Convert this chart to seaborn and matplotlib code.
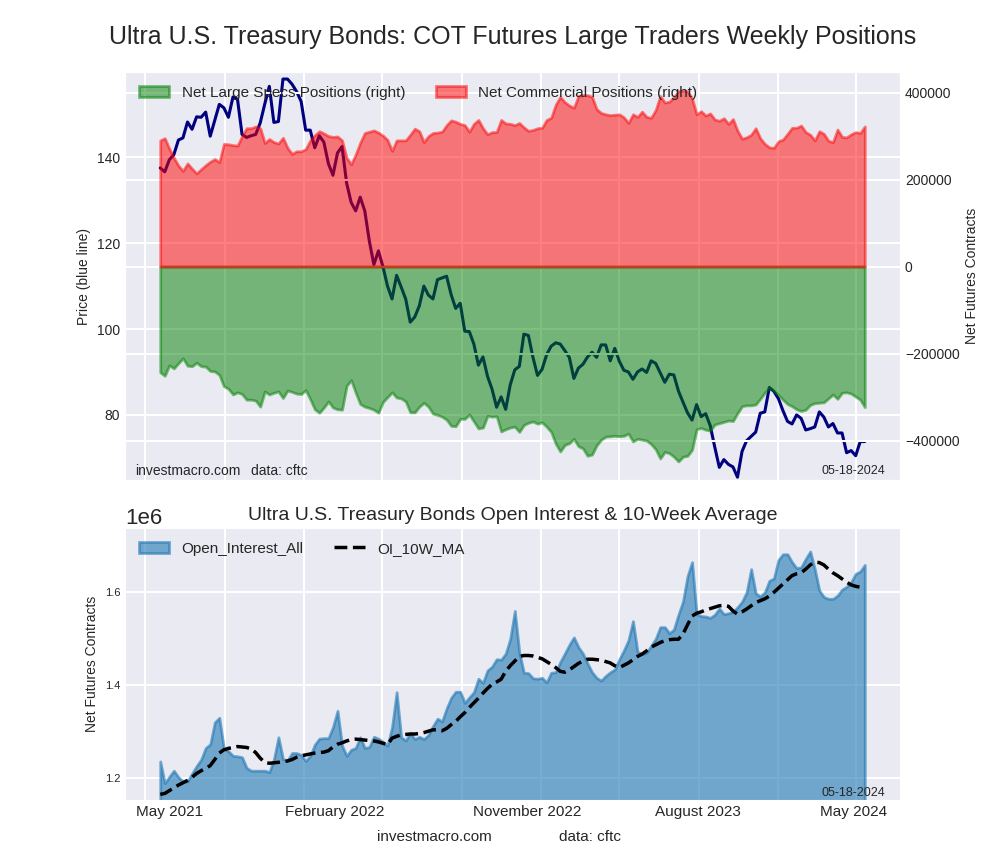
import numpy as np
import pandas as pd
import matplotlib
matplotlib.use("Agg")
import matplotlib.pyplot as plt
import matplotlib.dates as mdates
import matplotlib.ticker as mticker
import seaborn as sns

# weekly report dates (Tuesdays)
dates = pd.date_range("2021-05-25", periods=156, freq="7D")

# price (blue line)
price = [137.5, 136.6, 139.4, 140.6, 144.0, 144.5, 148.2, 146.5, 149.4, 149.3,
         150.5, 144.9, 148.6, 152.3, 151.5, 149.3, 154.0, 153.5, 145.3, 144.6,
         145.0, 145.3, 148.0, 152.4, 156.5, 148.1, 148.3, 158.2, 158.2, 157.0,
         155.3, 153.0, 146.3, 146.3, 142.2, 145.0, 143.5, 138.5, 135.8, 141.0,
         142.5, 134.0, 129.5, 127.5, 130.7, 127.5, 120.5, 115.0, 118.2, 114.5,
         110.0, 107.0, 112.5, 109.8, 107.0, 101.6, 102.8, 105.4, 110.0, 107.9,
         107.0, 111.5, 111.9, 112.3, 108.0, 104.8, 106.0, 99.5, 99.4, 96.5,
         91.6, 93.5, 89.0, 86.0, 81.8, 84.2, 81.3, 87.0, 90.5, 91.3,
         98.8, 98.5, 93.4, 89.2, 90.6, 94.0, 96.0, 96.8, 96.5, 95.0,
         93.4, 88.5, 90.9, 91.8, 93.5, 94.6, 93.4, 96.3, 96.3, 92.6,
         95.5, 92.5, 90.4, 90.0, 88.3, 90.0, 90.7, 89.9, 92.6, 92.0,
         89.8, 87.6, 89.5, 89.3, 85.6, 83.0, 80.5, 78.8, 82.4, 79.6,
         80.3, 77.5, 72.5, 67.8, 69.6, 68.5, 67.9, 65.5, 71.5, 74.0,
         75.0, 76.0, 80.4, 80.7, 86.4, 85.5, 83.8, 81.0, 78.5, 77.9,
         80.0, 79.2, 76.5, 76.8, 77.2, 80.7, 79.5, 77.2, 78.0, 75.8,
         75.8, 71.2, 71.7, 70.5, 73.8, 73.8]

# net commercial positions, thousands of contracts
commercial_k = [290, 295, 271, 250, 232, 220, 237, 225, 214, 224,
                233, 241, 247, 240, 282, 281, 279, 278, 300, 318,
                318, 322, 318, 284, 293, 286, 283, 296, 273, 259,
                265, 265, 270, 290, 302, 311, 306, 300, 298, 299,
                290, 250, 235, 258, 285, 307, 310, 313, 308, 301,
                291, 266, 290, 290, 290, 303, 317, 311, 286, 300,
                307, 308, 310, 325, 336, 333, 328, 325, 310, 328,
                337, 318, 304, 309, 309, 337, 329, 328, 325, 330,
                320, 312, 314, 318, 319, 337, 342, 372, 390, 378,
                370, 365, 392, 394, 394, 390, 362, 353, 350, 348,
                349, 350, 343, 330, 350, 344, 356, 344, 342, 360,
                392, 377, 379, 389, 403, 404, 403, 386, 350, 357,
                347, 352, 338, 335, 341, 328, 339, 312, 294, 297,
                303, 318, 295, 282, 274, 273, 288, 292, 305, 319,
                319, 324, 309, 303, 290, 311, 305, 289, 286, 315,
                298, 297, 304, 309, 307, 322]

# net large speculator positions, thousands of contracts
specs_k = [-243, -251, -227, -234, -222, -211, -228, -229, -221, -229,
           -230, -240, -241, -249, -275, -281, -294, -289, -293, -306,
           -306, -308, -322, -287, -294, -290, -287, -302, -285, -288,
           -292, -293, -284, -305, -328, -336, -324, -310, -324, -328,
           -329, -274, -261, -290, -316, -322, -325, -329, -336, -311,
           -300, -289, -301, -303, -310, -335, -335, -322, -313, -322,
           -338, -341, -345, -352, -366, -367, -350, -350, -340, -356,
           -372, -370, -343, -345, -344, -379, -374, -370, -368, -380,
           -364, -359, -356, -361, -358, -368, -380, -407, -425, -410,
           -406, -396, -413, -418, -435, -432, -411, -398, -391, -390,
           -389, -390, -389, -384, -402, -396, -398, -400, -408, -420,
           -441, -426, -429, -437, -448, -437, -435, -421, -374, -371,
           -375, -377, -363, -360, -357, -354, -355, -337, -321, -319,
           -319, -317, -304, -290, -278, -286, -295, -306, -316, -321,
           -328, -332, -329, -318, -314, -313, -312, -303, -294, -304,
           -290, -289, -292, -299, -306, -323]

# open interest and its 10 week average, millions of contracts
open_interest_m = [1.236, 1.189, 1.203, 1.216, 1.202, 1.193, 1.193, 1.210, 1.226, 1.240,
                   1.265, 1.273, 1.320, 1.330, 1.263, 1.258, 1.248, 1.247, 1.245, 1.222,
                   1.216, 1.216, 1.216, 1.216, 1.213, 1.240, 1.288, 1.241, 1.238, 1.254,
                   1.254, 1.250, 1.237, 1.248, 1.272, 1.285, 1.286, 1.286, 1.310, 1.345,
                   1.270, 1.248, 1.261, 1.265, 1.288, 1.265, 1.267, 1.289, 1.285, 1.278,
                   1.270, 1.310, 1.385, 1.288, 1.281, 1.297, 1.284, 1.289, 1.284, 1.293,
                   1.312, 1.328, 1.322, 1.350, 1.373, 1.386, 1.386, 1.362, 1.374, 1.385,
                   1.414, 1.405, 1.432, 1.440, 1.456, 1.455, 1.468, 1.500, 1.560, 1.470,
                   1.427, 1.426, 1.415, 1.414, 1.416, 1.406, 1.427, 1.428, 1.450, 1.468,
                   1.487, 1.503, 1.482, 1.468, 1.447, 1.428, 1.416, 1.410, 1.420, 1.428,
                   1.434, 1.456, 1.475, 1.497, 1.538, 1.472, 1.467, 1.470, 1.485, 1.500,
                   1.525, 1.525, 1.512, 1.520, 1.552, 1.580, 1.635, 1.665, 1.553, 1.549,
                   1.548, 1.545, 1.552, 1.565, 1.553, 1.555, 1.558, 1.568, 1.580, 1.600,
                   1.650, 1.598, 1.591, 1.600, 1.625, 1.630, 1.670, 1.682, 1.682, 1.665,
                   1.652, 1.654, 1.672, 1.688, 1.650, 1.604, 1.590, 1.586, 1.586, 1.593,
                   1.606, 1.612, 1.622, 1.640, 1.645, 1.659]

oi_ma_m = [1.165, 1.167, 1.173, 1.179, 1.185, 1.190, 1.195, 1.202, 1.210, 1.216,
           1.221, 1.227, 1.240, 1.254, 1.261, 1.264, 1.266, 1.268, 1.267, 1.266,
           1.263, 1.255, 1.243, 1.234, 1.232, 1.233, 1.234, 1.235, 1.237, 1.240,
           1.245, 1.248, 1.250, 1.252, 1.254, 1.255, 1.256, 1.259, 1.267, 1.273,
           1.276, 1.280, 1.283, 1.284, 1.283, 1.282, 1.281, 1.280, 1.278, 1.275,
           1.272, 1.286, 1.290, 1.293, 1.294, 1.295, 1.295, 1.296, 1.298, 1.301,
           1.304, 1.304, 1.302, 1.307, 1.315, 1.322, 1.332, 1.341, 1.352, 1.362,
           1.372, 1.383, 1.393, 1.402, 1.407, 1.413, 1.430, 1.442, 1.452, 1.462,
           1.464, 1.464, 1.463, 1.460, 1.457, 1.451, 1.445, 1.438, 1.430, 1.428,
           1.433, 1.440, 1.447, 1.452, 1.456, 1.456, 1.455, 1.454, 1.451, 1.448,
           1.442, 1.438, 1.443, 1.448, 1.455, 1.462, 1.467, 1.474, 1.482, 1.487,
           1.492, 1.496, 1.498, 1.499, 1.499, 1.510, 1.530, 1.549, 1.555, 1.558,
           1.562, 1.565, 1.568, 1.571, 1.572, 1.570, 1.560, 1.553, 1.558, 1.564,
           1.571, 1.578, 1.582, 1.586, 1.592, 1.600, 1.609, 1.618, 1.627, 1.636,
           1.640, 1.642, 1.650, 1.659, 1.665, 1.664, 1.659, 1.650, 1.642, 1.636,
           1.629, 1.622, 1.616, 1.613, 1.611, 1.613]

# x axis labels on the lower panel
label_dates = ["2021-06-09", "2022-02-17", "2022-12-11", "2023-08-31", "2024-04-27"]
label_texts = ["May 2021", "February 2022", "November 2022", "August 2023", "May 2024"]
report_date = "05-18-2024"

df = pd.DataFrame({
    "date": dates,
    "price": price,
    "specs": np.array(specs_k) * 1000,
    "commercial": np.array(commercial_k) * 1000,
    "oi": np.array(open_interest_m) * 1e6,
    "oi_ma": np.array(oi_ma_m) * 1e6,
})

sns.set_style("darkgrid")
plt.rcParams["font.family"] = ["Liberation Sans", "DejaVu Sans"]
plt.rcParams["grid.linewidth"] = 1.5

fig = plt.figure(figsize=(10, 8.6), dpi=100)
gs = fig.add_gridspec(2, 1, height_ratios=[3, 2], hspace=0.141,
                      left=0.125, right=0.9, top=0.916, bottom=0.07)
ax1 = fig.add_subplot(gs[0])
ax3 = fig.add_subplot(gs[1])

# --- top panel: price + net positions
sns.lineplot(data=df, x="date", y="price", ax=ax1, color="navy", linewidth=2.2)
ax1.set_ylim(df["price"].min() * 0.99, df["price"].max() * 1.01)
ax1.set_ylabel("Price (blue line)", fontsize=10)
ax1.set_xlabel("")

ax2 = ax1.twinx()
ax2.fill_between(df["date"], 0, df["specs"], color="green", alpha=0.5, linewidth=2,
                 label="Net Large Specs Positions (right)")
ax2.fill_between(df["date"], 0, df["commercial"], color="red", alpha=0.5, linewidth=2,
                 label="Net Commercial Positions (right)")
ax2.set_ylabel("Net Futures Contracts", fontsize=10)
ax2.legend(loc="upper left", ncol=2, frameon=False, fontsize=11)

for ax in (ax1, ax2, ax3):
    ax.tick_params(which="both", length=0)
ax2.tick_params(axis="y", labelsize=10)

for ax in (ax1, ax3):
    ax.xaxis.set_major_locator(mdates.MonthLocator(bymonth=[1, 5, 9]))
    ax.xaxis.set_major_formatter(mticker.NullFormatter())

ax1.text(0.013, 0.023, "investmacro.com", transform=ax1.transAxes, fontsize=10, va="center")
ax1.text(0.163, 0.023, "data: cftc", transform=ax1.transAxes, fontsize=10, va="center")
ax1.text(0.981, 0.023, report_date, transform=ax1.transAxes, fontsize=9, va="center", ha="right")

# --- bottom panel: open interest
ax3.fill_between(df["date"], 0, df["oi"], color="#1f77b4", alpha=0.6, linewidth=2,
                 label="Open_Interest_All")
sns.lineplot(data=df, x="date", y="oi_ma", ax=ax3, color="black", linestyle="--",
             linewidth=2.5, label="OI_10W_MA")
ax3.set_ylim(df["oi"].min() * 0.97, df["oi"].max() * 1.03)
ax3.yaxis.set_major_locator(mticker.MultipleLocator(200000))
ax3.set_title("Ultra U.S. Treasury Bonds Open Interest & 10-Week Average", fontsize=14)
ax3.set_ylabel("Net Futures Contracts", fontsize=10)
ax3.set_xlabel("")
ax3.tick_params(axis="y", labelsize=8)
ax3.yaxis.get_offset_text().set_fontsize(16)
ax3.legend(loc="upper left", ncol=2, frameon=False, fontsize=11)

ax3.xaxis.set_minor_locator(mticker.FixedLocator(mdates.date2num(pd.to_datetime(label_dates))))
ax3.xaxis.set_minor_formatter(mticker.FixedFormatter(label_texts))
ax3.tick_params(axis="x", which="minor", labelsize=11, pad=4)
ax3.text(0.981, 0.025, report_date, transform=ax3.transAxes, fontsize=9, va="center", ha="right")

fig.suptitle("Ultra U.S. Treasury Bonds: COT Futures Large Traders Weekly Positions",
             fontsize=18, x=0.5125, y=1 - 37 / 860, va="center")
fig.text(0.377, 1 - 837 / 860, "investmacro.com", fontsize=11, va="center")
fig.text(0.559, 1 - 837 / 860, "data: cftc", fontsize=11, va="center")

fig.savefig("out.png", dpi=100)
